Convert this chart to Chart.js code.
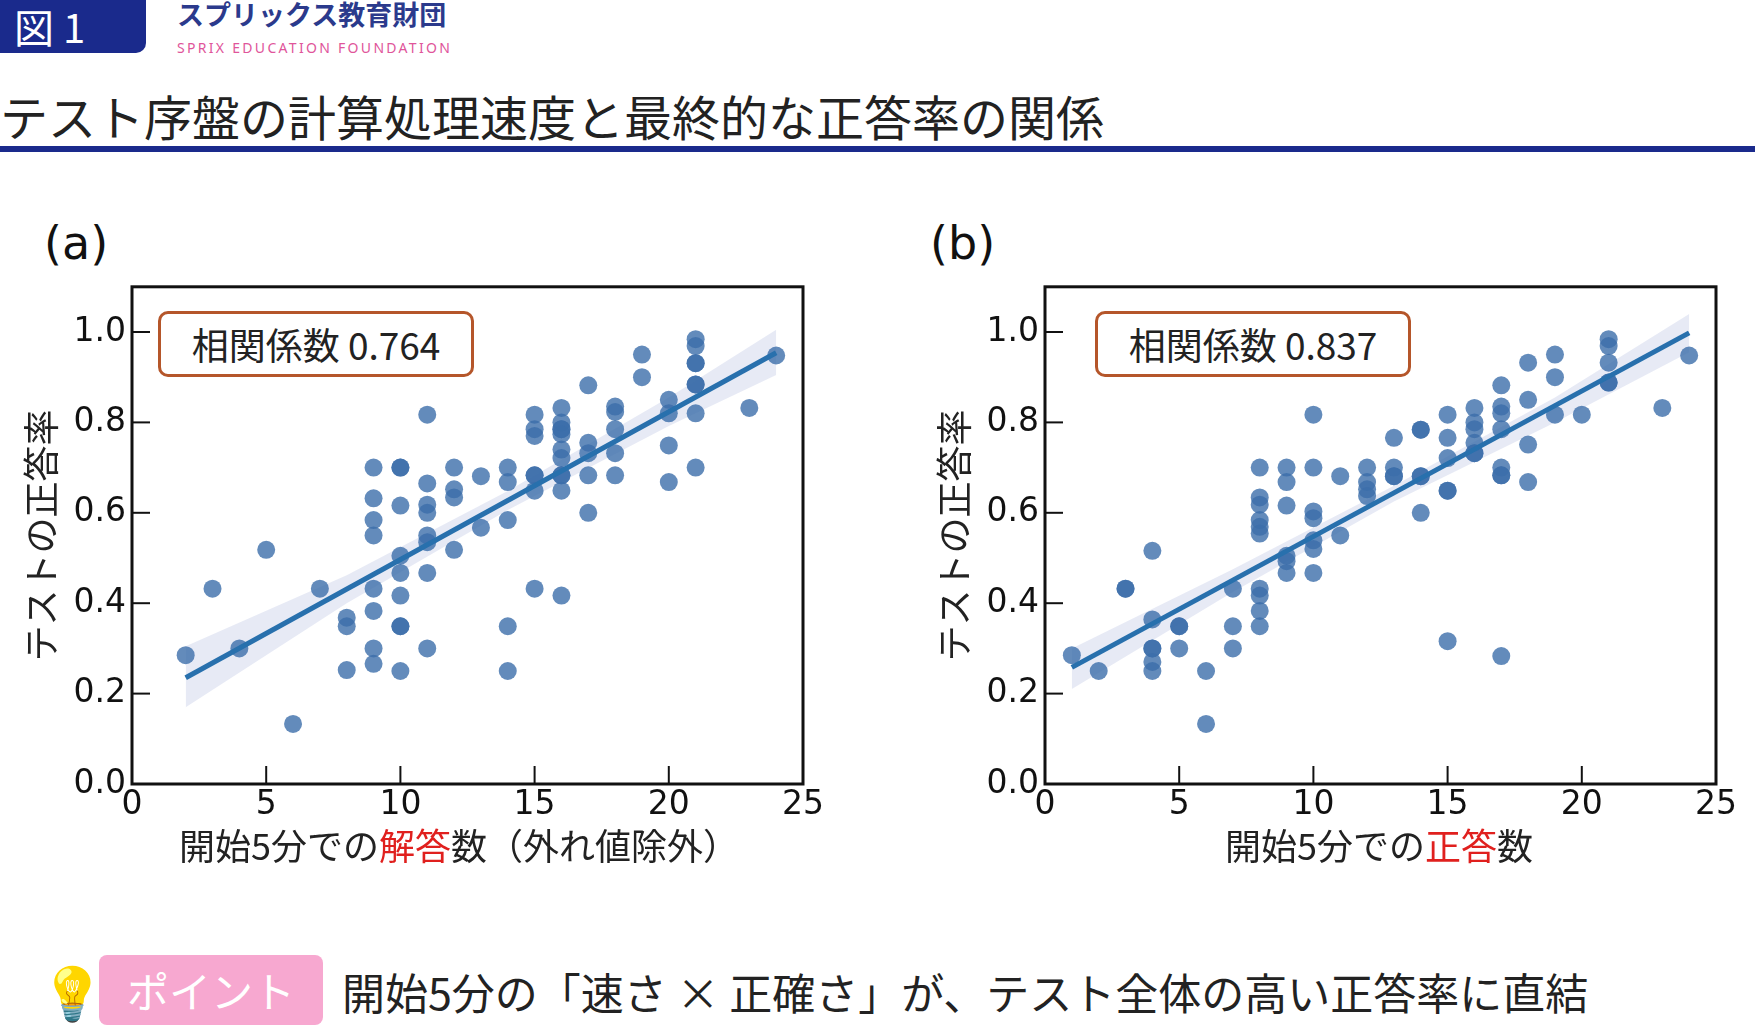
<!DOCTYPE html>
<html><head><meta charset="utf-8">
<script src="https://cdn.jsdelivr.net/npm/chart.js@4"></script>
<style>
body{margin:0;width:1755px;height:1030px;background:#fff;position:relative;overflow:hidden;font-family:"Noto Sans CJK JP","Noto Sans",sans-serif;}
.abs{position:absolute;white-space:nowrap;}
#fig{left:0;top:0;width:146px;height:53px;background:#1a2a8c;color:#fff;font-size:40px;line-height:53px;padding-left:14px;box-sizing:border-box;border-bottom-right-radius:10px;}
.corr{border:3px solid #b5562a;border-radius:10px;font-size:37px;color:#222;box-sizing:border-box;display:flex;align-items:center;justify-content:center;background:#fff;}
.xt{font-size:36px;color:#222;transform:translateX(-50%);}
.red{color:#e0201e;}
canvas{position:absolute;}
</style></head><body>
<div class="abs" id="fig">図 1</div>
<div class="abs" style="left:177px;top:-6px;font-size:27px;font-weight:bold;color:#2b3a8c;">スプリックス教育財団</div>
<div class="abs" style="left:177px;top:38px;font-size:14px;color:#e0559a;letter-spacing:2.3px;font-family:'Noto Sans',sans-serif;">SPRIX EDUCATION FOUNDATION</div>
<div class="abs" style="left:0;top:85px;font-size:48px;color:#222;line-height:60px;">テスト序盤の計算処理速度と最終的な正答率の関係</div>
<div class="abs" style="left:0;top:146px;width:1755px;height:6px;background:#1a2a8c;"></div>
<div class="abs" style="left:44px;top:216px;font-size:46px;color:#111;font-family:'DejaVu Sans';">(a)</div>
<div class="abs" style="left:930px;top:216px;font-size:46px;color:#111;font-family:'DejaVu Sans';">(b)</div>
<canvas id="ca" width="820" height="609" style="left:20px;top:261px;width:820px;height:609px;"></canvas>
<canvas id="cb" width="820" height="609" style="left:933px;top:261px;width:820px;height:609px;"></canvas>
<div class="abs corr" style="left:158px;top:311px;width:316px;height:66px;">相関係数 0.764</div>
<div class="abs corr" style="left:1095px;top:311px;width:316px;height:66px;">相関係数 0.837</div>
<div class="abs xt" style="left:459px;top:818px;">開始5分での<span class="red">解答</span>数（外れ値除外）</div>
<div class="abs xt" style="left:1379px;top:818px;">開始5分での<span class="red">正答</span>数</div>
<div class="abs" style="left:40px;top:952px;font-size:52px;">💡</div>
<div class="abs" style="left:99px;top:955px;width:224px;height:70px;background:#f7a8d0;border-radius:8px;color:#fff;font-size:42px;line-height:70px;text-align:center;">ポイント</div>
<div class="abs" style="left:342px;top:960px;font-size:43px;color:#222;">開始5分の「速さ × 正確さ」が、テスト全体の高い正答率に直結</div>
<script>
const xTicks=[0,5,10,15,20,25];
const yTicks=[0,0.2,0.4,0.6,0.8,1.0];
// (a) points: x = 解答数, y = 正答率
const aX=[2,3,4,5,6,7,8,8,8,9,9,9,9,9,9,9,9,10,10,10,10,10,10,10,10,10,11,11,11,11,11,11,11,11,12,12,12,12,13,13,14,14,14,14,14,15,15,15,15,15,15,15,16,16,16,16,16,16,16,16,16,16,16,17,17,17,17,17,18,18,18,18,18,19,19,20,20,20,20,21,21,21,21,21,21,21,21,23,24];
const aY=[0.285,0.432,0.30,0.518,0.133,0.432,0.368,0.349,0.252,0.70,0.632,0.584,0.55,0.432,0.383,0.30,0.266,0.70,0.70,0.616,0.505,0.467,0.417,0.349,0.349,0.25,0.817,0.665,0.618,0.60,0.55,0.535,0.467,0.30,0.70,0.652,0.634,0.518,0.681,0.567,0.70,0.668,0.584,0.349,0.25,0.817,0.785,0.77,0.683,0.683,0.649,0.432,0.832,0.80,0.785,0.785,0.774,0.74,0.721,0.683,0.683,0.649,0.417,0.882,0.755,0.732,0.683,0.60,0.835,0.823,0.785,0.732,0.683,0.95,0.90,0.85,0.82,0.749,0.668,0.984,0.969,0.931,0.931,0.884,0.884,0.82,0.70,0.832,0.948];
const aLineX=[2,24], aLineY=[0.235,0.954];
const aBandX=[2,8,14,20,24], aBandHi=[0.305,0.462,0.648,0.855,1.005], aBandLo=[0.17,0.40,0.606,0.792,0.905];
// (b) points: x = 正答数
const bX=[1,2,3,3,4,4,4,4,4,4,5,5,5,6,6,7,7,7,8,8,8,8,8,8,8,8,8,8,9,9,9,9,9,9,10,10,10,10,10,10,10,11,11,12,12,12,12,13,13,13,13,14,14,14,14,14,15,15,15,15,15,15,16,16,16,16,16,16,17,17,17,17,17,17,17,17,18,18,18,18,19,19,19,20,21,21,21,21,21,23,24];
const bY=[0.285,0.25,0.432,0.432,0.516,0.364,0.30,0.30,0.27,0.25,0.349,0.349,0.30,0.25,0.133,0.432,0.349,0.30,0.70,0.634,0.618,0.584,0.569,0.554,0.432,0.417,0.383,0.349,0.70,0.668,0.616,0.505,0.493,0.467,0.817,0.70,0.603,0.588,0.539,0.52,0.467,0.681,0.55,0.70,0.668,0.652,0.637,0.766,0.70,0.681,0.681,0.784,0.784,0.681,0.681,0.60,0.817,0.766,0.721,0.649,0.649,0.316,0.832,0.80,0.785,0.755,0.732,0.732,0.882,0.835,0.82,0.785,0.70,0.683,0.683,0.283,0.932,0.85,0.751,0.668,0.95,0.90,0.817,0.817,0.984,0.969,0.932,0.888,0.888,0.832,0.948];
const bLineX=[1,24], bLineY=[0.258,0.998];
const bBandX=[1,7,13,19,24], bBandHi=[0.30,0.475,0.66,0.855,1.04], bBandLo=[0.21,0.425,0.625,0.80,0.955];

const inTicks={id:'inTicks',afterDraw(c){const g=c.ctx,a=c.chartArea,x=c.scales.x,y=c.scales.y;g.save();g.strokeStyle='#111';g.lineWidth=2;
 xTicks.forEach(v=>{const p=x.getPixelForValue(v);g.beginPath();g.moveTo(p,a.bottom);g.lineTo(p,a.bottom-18);g.stroke();});
 yTicks.forEach(v=>{const p=y.getPixelForValue(v);g.beginPath();g.moveTo(a.left,p);g.lineTo(a.left+18,p);g.stroke();});
 g.lineWidth=3;g.strokeRect(a.left,a.top,a.right-a.left,a.bottom-a.top);g.restore();}};
const pts=(xs,ys)=>xs.map((v,i)=>({x:v,y:ys[i]}));
function make(id,X,Y,lx,ly,bx,bh,bl){
 new Chart(document.getElementById(id),{type:'scatter',
  data:{datasets:[
   {type:'line',data:pts(bx,bh),borderWidth:0,pointRadius:0,fill:'+1',backgroundColor:'rgba(120,140,200,0.18)',order:3},
   {type:'line',data:pts(bx,bl),borderWidth:0,pointRadius:0,fill:false,order:3},
   {data:pts(X,Y),pointRadius:9,pointHoverRadius:9,backgroundColor:'rgba(60,110,170,0.8)',borderWidth:0,order:2},
   {type:'line',data:pts(lx,ly),borderColor:'#2870ad',borderWidth:5,pointRadius:0,fill:false,order:1}]},
  options:{responsive:false,animation:false,events:[],
   layout:{padding:{top:7,right:37,left:0,bottom:0}},
   plugins:{legend:{display:false},tooltip:{enabled:false}},
   scales:{
    x:{type:'linear',min:0,max:25,afterBuildTicks:s=>{s.ticks=xTicks.map(v=>({value:v}));},
     grid:{display:false,drawTicks:false},border:{display:false},
     ticks:{padding:2,color:'#111',font:{size:33,family:'DejaVu Sans'},maxRotation:0},
     afterFit:s=>{s.height=86;}},
    y:{min:0,max:1.1,afterBuildTicks:s=>{s.ticks=yTicks.map(v=>({value:v}));},
     grid:{display:false,drawTicks:false},border:{display:false},
     ticks:{padding:6,color:'#111',font:{size:33,family:'DejaVu Sans'},callback:v=>v.toFixed(1)},
     title:{display:true,text:'テストの正答率',color:'#222',font:{size:36,family:'Noto Sans CJK JP'},padding:0},
     afterFit:s=>{s.width=112;}}}},
  plugins:[inTicks]});
}
make('ca',aX,aY,aLineX,aLineY,aBandX,aBandHi,aBandLo);
make('cb',bX,bY,bLineX,bLineY,bBandX,bBandHi,bBandLo);
</script></body></html>
